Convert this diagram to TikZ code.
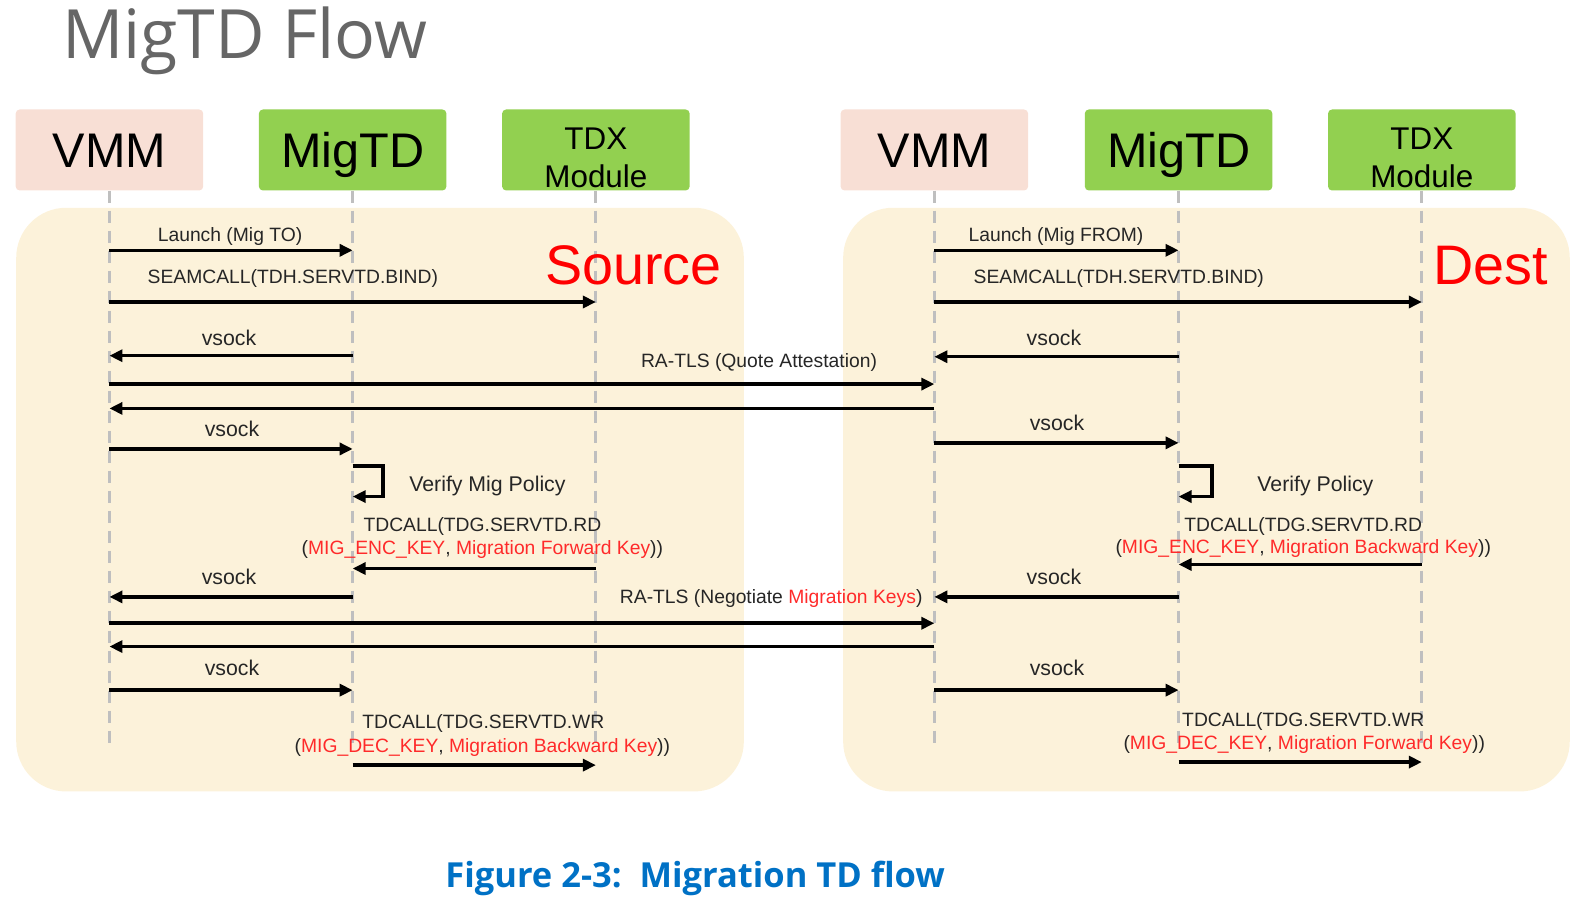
\documentclass[tikz,border=0pt]{standalone}
\usepackage{fontspec}
\setmainfont{Liberation Sans}
\newfontfamily\titlefont{Open Sans}
\usetikzlibrary{arrows.meta}

\definecolor{panelbg}{HTML}{FCF2DA}
\definecolor{vmmpink}{HTML}{F8DFD5}
\definecolor{tdgreen}{HTML}{92D050}
\definecolor{lifegray}{HTML}{BFBFBF}
\definecolor{keyred}{HTML}{FF2A2A}
\definecolor{txtdark}{HTML}{262626}
\definecolor{capblue}{HTML}{0071C5}
\definecolor{titlegray}{HTML}{666666}

\newcommand{\keytxt}[1]{\textcolor{keyred}{#1}}

\tikzset{
  hdr/.style={minimum width=187.5pt,minimum height=81pt,rounded corners=4pt,inner sep=0pt},
  vmmbox/.style={hdr,fill=vmmpink,font=\fontsize{48.6}{50}\selectfont,text height=35.5pt,text depth=0pt},
  migbox/.style={hdr,fill=tdgreen,font=\fontsize{48.6}{50}\selectfont,text height=35.5pt,text depth=0pt},
  tdxbox/.style={hdr,fill=tdgreen},
  tdxtext/.style={align=center,inner sep=0pt,font=\fontsize{31.4}{37.5}\selectfont},
  panel/.style={fill=panelbg,rounded corners=50pt},
  life/.style={lifegray,line width=3pt,dash pattern=on 12pt off 8pt},
  msg/.style={line width=3.5pt,-{Triangle[length=13pt,width=12pt]}},
  lbl/.style={anchor=base,inner sep=0pt,text=txtdark,font=\fontsize{19.3}{22}\selectfont},
  lblbig/.style={lbl,font=\fontsize{21.3}{24}\selectfont},
  side/.style={anchor=base,inner sep=0pt,text=red,font=\fontsize{55.7}{60}\selectfont},
}

\begin{document}
\begin{tikzpicture}[x=1.0134pt,y=-1.0134pt]
  \useasboundingbox (0,0) rectangle (1568,884.2);

  % title and caption
  \node[anchor=base west,inner sep=0pt,text=titlegray,font=\titlefont\fontsize{68}{72}\selectfont] (title) at (61,58) {MigTD Flow};
  \node[anchor=base,inner sep=0pt,text=capblue,font=\titlefont\bfseries\fontsize{34.5}{38}\selectfont] (caption) at (686,876) {Figure 2-3:\ \ Migration TD flow};

  % panels
  \fill[panel] (16,205) rectangle (734,781);
  \fill[panel] (832,205) rectangle (1549,781);

  % headers, source side
  \node[vmmbox] (vmmA) at (108,148) {VMM};
  \node[migbox] (migA) at (348,148) {MigTD};
  \node[tdxbox] (tdxA) at (588,148) {};
  \node[tdxtext] (tdxAtxt) at (588,156) {TDX\\Module};
  % headers, dest side
  \node[vmmbox] (vmmB) at (922,148) {VMM};
  \node[migbox] (migB) at (1163,148) {MigTD};
  \node[tdxbox] (tdxB) at (1403,148) {};
  \node[tdxtext] (tdxBtxt) at (1403,156) {TDX\\Module};

  % lifelines
  \draw[life] (vmmA.south) -- (vmmA |- 0,735);
  \draw[life] (migA.south) -- (migA |- 0,740);
  \draw[life] (tdxA.south) -- (tdxA |- 0,740);
  \draw[life] (vmmB.south) -- (vmmB |- 0,735);
  \draw[life] (migB.south) -- (migB |- 0,740);
  \draw[life] (tdxB.south) -- (tdxB |- 0,740);

  \node[side] (srcA) at (625,281) {Source};
  \node[side] (dstB) at (1471,281) {Dest};

  % source side messages
  \draw[msg] (vmmA |- 0,247) -- (migA |- 0,247);
  \node[lbl] (launchA) at (227,238) {Launch (Mig TO)};
  \draw[msg] (vmmA |- 0,298) -- (tdxA |- 0,298);
  \node[lbl] (bindA) at (289,280) {SEAMCALL(TDH.SERVTD.BIND)};
  \draw[msg] (migA |- 0,351) -- (vmmA |- 0,351);
  \node[lblbig] (vsA1) at (226,341) {vsock};
  \draw[msg] (vmmA |- 0,379) -- (vmmB |- 0,379);
  \node[lbl] (quote) at (749,363) {RA-TLS (Quote Attestation)};
  \draw[msg] (vmmB |- 0,403) -- (vmmA |- 0,403);
  \draw[msg] (vmmA |- 0,443) -- (migA |- 0,443);
  \node[lblbig] (vsA2) at (229,431) {vsock};
  \coordinate (loopA) at (378,460);
  \draw[msg] (migA |- loopA) -- (loopA) |- (migA |- 0,490);
  \node[lblbig] (policyA) at (481,485) {Verify Mig Policy};
  \node[lbl] (rdA) at (476,524) {TDCALL(TDG.SERVTD.RD};
  \node[lbl] (rdkeyA) at (476,547) {(\keytxt{MIG\_ENC\_KEY}, \keytxt{Migration Forward Key}))};
  \draw[msg] (tdxA |- 0,561) -- (migA |- 0,561);
  \draw[msg] (migA |- 0,589) -- (vmmA |- 0,589);
  \node[lblbig] (vsA3) at (226,577) {vsock};
  \draw[msg] (vmmA |- 0,615) -- (vmmB |- 0,615);
  \node[lbl] (negot) at (761,596) {RA-TLS (Negotiate \keytxt{Migration Keys})};
  \draw[msg] (vmmB |- 0,638) -- (vmmA |- 0,638);
  \draw[msg] (vmmA |- 0,681) -- (migA |- 0,681);
  \node[lblbig] (vsA4) at (229,667) {vsock};
  \node[lbl] (wrA) at (477,719) {TDCALL(TDG.SERVTD.WR};
  \node[lbl] (wrkeyA) at (476,743) {(\keytxt{MIG\_DEC\_KEY}, \keytxt{Migration Backward Key}))};
  \draw[msg] (migA |- 0,755) -- (tdxA |- 0,755);

  % dest side messages
  \draw[msg] (vmmB |- 0,247) -- (migB |- 0,247);
  \node[lbl] (launchB) at (1042,238) {Launch (Mig FROM)};
  \draw[msg] (vmmB |- 0,298) -- (tdxB |- 0,298);
  \node[lbl] (bindB) at (1104,280) {SEAMCALL(TDH.SERVTD.BIND)};
  \draw[msg] (migB |- 0,352) -- (vmmB |- 0,352);
  \node[lblbig] (vsB1) at (1040,341) {vsock};
  \draw[msg] (vmmB |- 0,437) -- (migB |- 0,437);
  \node[lblbig] (vsB2) at (1043,425) {vsock};
  \coordinate (loopB) at (1196,460);
  \draw[msg] (migB |- loopB) -- (loopB) |- (migB |- 0,490);
  \node[lblbig] (policyB) at (1298,485) {Verify Policy};
  \node[lbl] (rdB) at (1286,524) {TDCALL(TDG.SERVTD.RD};
  \node[lbl] (rdkeyB) at (1286,546) {(\keytxt{MIG\_ENC\_KEY}, \keytxt{Migration Backward Key}))};
  \draw[msg] (tdxB |- 0,557) -- (migB |- 0,557);
  \draw[msg] (migB |- 0,589) -- (vmmB |- 0,589);
  \node[lblbig] (vsB3) at (1040,577) {vsock};
  \draw[msg] (vmmB |- 0,681) -- (migB |- 0,681);
  \node[lblbig] (vsB4) at (1043,667) {vsock};
  \node[lbl] (wrB) at (1286,717) {TDCALL(TDG.SERVTD.WR};
  \node[lbl] (wrkeyB) at (1287,740) {(\keytxt{MIG\_DEC\_KEY}, \keytxt{Migration Forward Key}))};
  \draw[msg] (migB |- 0,752) -- (tdxB |- 0,752);
\end{tikzpicture}
\end{document}
